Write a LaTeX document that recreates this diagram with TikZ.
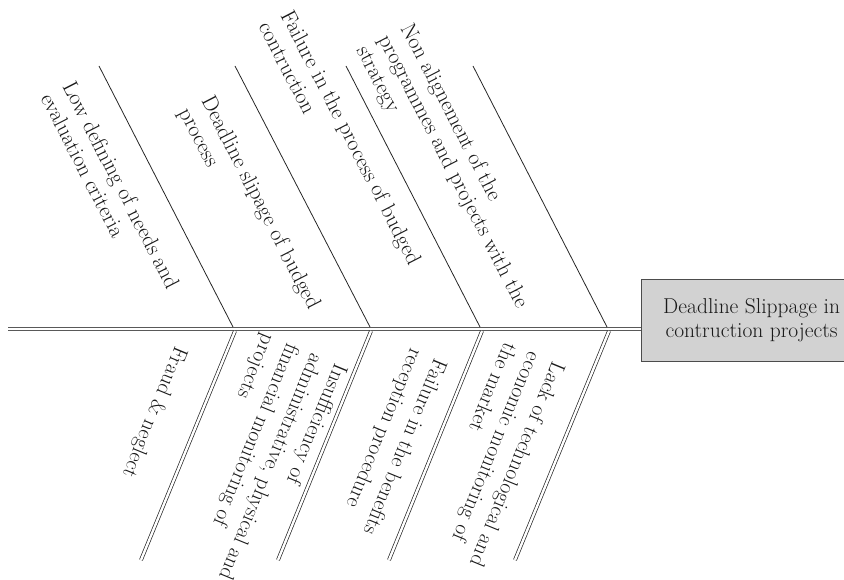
\documentclass[tikz,border=0pt]{standalone}
\usepackage{fontspec}
\begin{document}
\begin{tikzpicture}[x=1pt,y=-1pt,
  bone/.style={draw=black!85, line width=0.8pt},
  dbone/.style={draw=black!85, double=white, double distance=2.4pt, line width=0.7pt},
  spine/.style={draw=black!65, double=white, double distance=2.6pt, line width=0.9pt},
  uptext/.style={rotate=-62.8, align=left, inner sep=0pt, font=\fontsize{22}{25}\selectfont, text=black!90},
  lowtext/.style={rotate=-112.3, align=left, inner sep=0pt, font=\fontsize{21.5}{26}\selectfont, text=black!90},
  headbox/.style={draw=black!70, fill=gray!35, line width=1.2pt, minimum width=220pt, minimum height=82pt, inner sep=0pt, align=center, font=\fontsize{21.5}{24}\selectfont, text=black!90}
]
\useasboundingbox (0,0) rectangle (844,580);
% head box
\node[headbox, anchor=north west] (box) at (641,279) {Deadline Slippage in\\contruction projects};
% spine
\coordinate (s0) at (8,329);
\draw[spine] (s0) -- (s0 -| box.west);
% upper bones
\coordinate (t1) at (99,66);  \coordinate (j1) at (233,327);
\coordinate (t2) at (235,66); \coordinate (j2) at (370,327);
\coordinate (t3) at (346,66); \coordinate (j3) at (480,327);
\coordinate (t4) at (473,66); \coordinate (j4) at (607,327);
\draw[bone] (t1) -- (j1);
\draw[bone] (t2) -- (j2);
\draw[bone] (t3) -- (j3);
\draw[bone] (t4) -- (j4);
% lower bones
\coordinate (k1) at (235,331); \coordinate (e1) at (141,560);
\coordinate (k2) at (371,331); \coordinate (e2) at (278,560);
\coordinate (k3) at (482,331); \coordinate (e3) at (389,560);
\coordinate (k4) at (609,331); \coordinate (e4) at (515,560);
\draw[dbone] (k1) -- (e1);
\draw[dbone] (k2) -- (e2);
\draw[dbone] (k3) -- (e3);
\draw[dbone] (k4) -- (e4);
% upper labels
\node[uptext] (u1) at (111,191) {Low defining of needs and\\evaluation criteria};
\node[uptext] (u2) at (249,209) {Deadline slipage of budged\\process};
\node[uptext] (u3) at (341,143) {Failure in the process of budged\\contruction};
\node[uptext] (u4) at (453,172) {Non alignement of the\\programmes and projects with the\\strategy};
% lower labels
\node[lowtext] (l1) at (154,412) {Fraud \& neglect};
\node[lowtext] (l2) at (258,462) {Insufficiency of\\administrative, physical and\\financial monitoring of\\projects};
\node[lowtext] (l3) at (392,442) {Failure in the benefits\\reception procedure};
\node[lowtext] (l4) at (494,455) {Lack of technological and\\economic monitoring of\\the market};
\end{tikzpicture}
\end{document}
